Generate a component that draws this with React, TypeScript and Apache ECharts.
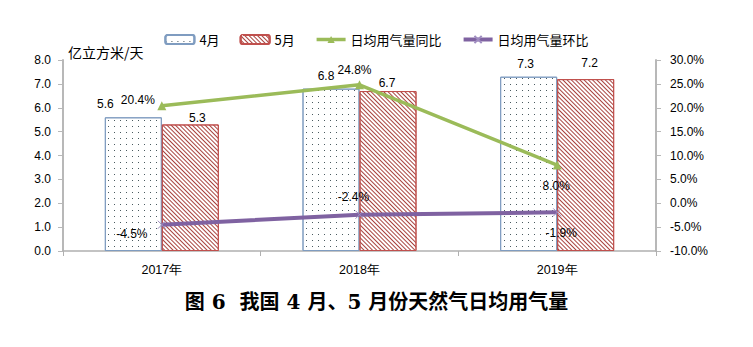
import React, { useEffect, useRef } from "react";
import * as echarts from "echarts";

const categories = ["2017年", "2018年", "2019年"];
const april = [5.6, 6.8, 7.3];
const may = [5.3, 6.7, 7.2];
const yoy = [20.4, 24.8, 8.0];
const mom = [-4.5, -2.4, -1.9];

const aprOffsets = [[-28, -2], [-5, -2], [-3, -2]];
const mayOffsets = [[7, 5], [-1, 3], [4, -5]];
const yoyOffsets = [[-24, -6], [-5, -15], [-1, 21]];
const momOffsets = [[-30, 9], [-6, -18], [4, 21]];

const NUM_FONT = "'Liberation Sans', Arial, sans-serif";
const CJK_FONT = "'Noto Sans CJK SC', sans-serif";

export default function App() {
  const ref = useRef<HTMLDivElement>(null);
  useEffect(() => {
    document.body.style.margin = "0";
    const chart = echarts.init(ref.current!, null, { renderer: "svg" });
    const labelBase = { fontSize: 12, color: "#000", fontFamily: NUM_FONT };
    chart.setOption({
      animation: false,
      backgroundColor: "#fff",
      grid: { left: 63, right: 97, top: 60, bottom: 96 },
      legend: {
        left: "center",
        top: 28,
        itemWidth: 29,
        itemHeight: 9,
        itemGap: 20,
        textStyle: { fontSize: 13, color: "#000", fontFamily: CJK_FONT },
        data: [
          { name: "4月" },
          { name: "5月" },
          { name: "日均用气量同比", lineStyle: { width: 3.5 } },
          { name: "日均用气量环比", lineStyle: { width: 4 } },
        ],
      },
      xAxis: {
        type: "category",
        data: categories,
        axisLine: { lineStyle: { color: "#b0b0b0", width: 1.5 } },
        axisTick: { show: true, length: 5, lineStyle: { color: "#b0b0b0" } },
        axisLabel: { color: "#000", fontSize: 12.5, margin: 12, fontFamily: NUM_FONT },
      },
      yAxis: [
        {
          type: "value",
          min: 0,
          max: 8,
          interval: 1,
          axisLine: { show: true, lineStyle: { color: "#b8b8b8", width: 2 } },
          axisTick: { show: true, length: 5, lineStyle: { color: "#b8b8b8" } },
          splitLine: { show: false },
          axisLabel: {
            color: "#000",
            fontSize: 12,
            margin: 12,
            fontFamily: NUM_FONT,
            formatter: (v: number) => v.toFixed(1),
          },
        },
        {
          type: "value",
          min: -10,
          max: 30,
          interval: 5,
          position: "right",
          axisLine: { show: true, lineStyle: { color: "#b8b8b8", width: 2 } },
          axisTick: { show: true, length: 5, lineStyle: { color: "#b8b8b8" } },
          splitLine: { show: false },
          axisLabel: {
            color: "#000",
            fontSize: 12,
            margin: 14,
            fontFamily: NUM_FONT,
            formatter: (v: number) => v.toFixed(1) + "%",
          },
        },
      ],
      series: [
        {
          name: "4月",
          type: "bar",
          barWidth: 57,
          barGap: "0%",
          itemStyle: {
            color: "#ffffff",
            borderColor: "#7f9cc0",
            borderWidth: 1,
            decal: {
              symbol: "rect",
              symbolSize: 1,
              dashArrayX: [1, 5],
              dashArrayY: [1, 5],
              color: "#4a5a60",
            },
          },
          data: april.map((v, i) => ({
            value: v,
            label: {
              show: true,
              position: "top",
              offset: aprOffsets[i],
              formatter: (p: any) => p.value.toFixed(1),
              ...labelBase,
            },
          })),
        },
        {
          name: "5月",
          type: "bar",
          barWidth: 57,
          barGap: "0%",
          itemStyle: {
            color: "#ffffff",
            borderColor: "#c0504d",
            borderWidth: 1,
            decal: {
              symbol: "rect",
              symbolSize: 1,
              dashArrayX: [1, 0],
              dashArrayY: [1, 2],
              rotation: Math.PI / 4,
              color: "#a8423e",
            },
          },
          data: may.map((v, i) => ({
            value: v,
            label: {
              show: true,
              position: "top",
              offset: mayOffsets[i],
              formatter: (p: any) => p.value.toFixed(1),
              ...labelBase,
            },
          })),
        },
        {
          name: "日均用气量同比",
          type: "line",
          yAxisIndex: 1,
          symbol: "triangle",
          symbolSize: 9,
          lineStyle: { color: "#9bbb59", width: 3.5 },
          itemStyle: { color: "#9bbb59" },
          data: yoy.map((v, i) => ({
            value: v,
            label: {
              show: true,
              position: "inside",
              offset: yoyOffsets[i],
              formatter: (p: any) => p.value.toFixed(1) + "%",
              ...labelBase,
            },
          })),
        },
        {
          name: "日均用气量环比",
          type: "line",
          yAxisIndex: 1,
          symbol: "path://M0,0L10,10M10,0L0,10",
          symbolSize: 8,
          lineStyle: { color: "#7f62a1", width: 4 },
          itemStyle: { color: "#9f8cc0", borderColor: "#9f8cc0", borderWidth: 1 },
          data: mom.map((v, i) => ({
            value: v,
            label: {
              show: true,
              position: "inside",
              offset: momOffsets[i],
              formatter: (p: any) => p.value.toFixed(1) + "%",
              ...labelBase,
            },
          })),
        },
      ],
      graphic: [
        {
          type: "text",
          left: 68,
          top: 45,
          style: { text: "亿立方米/天", fontSize: 14, fill: "#000", fontFamily: CJK_FONT },
        },
        {
          type: "text",
          left: "center",
          top: 292,
          style: {
            text: "图 6  我国 4 月、5 月份天然气日均用气量",
            fontSize: 20,
            fontWeight: "bold",
            fill: "#000",
            fontFamily: "'DejaVu Serif', 'Noto Sans CJK SC', serif",
          },
        },
      ],
    });
    return () => chart.dispose();
  }, []);
  return <div ref={ref} style={{ width: 753, height: 347 }} />;
}
